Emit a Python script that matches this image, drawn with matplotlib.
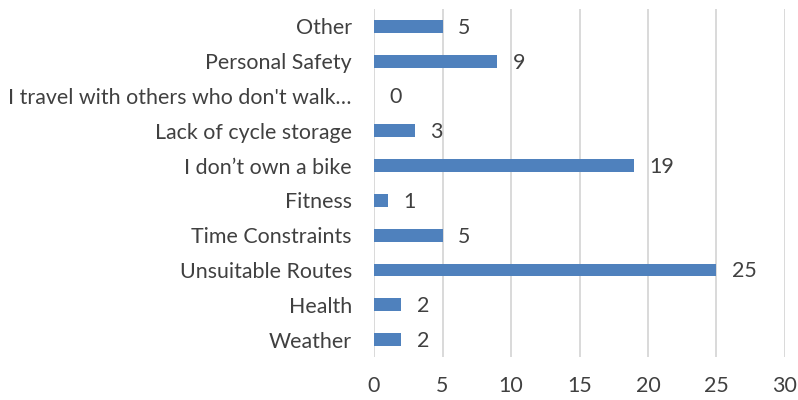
import matplotlib.pyplot as plt

# categories bottom -> top
categories = ["Weather", "Health", "Unsuitable Routes", "Time Constraints", "Fitness",
              "I don\u2019t own a bike", "Lack of cycle storage",
              "I travel with others who don't walk\u2026", "Personal Safety", "Other"]
counts = [2, 2, 25, 5, 1, 19, 3, 0, 9, 5]
x_ticks = [0, 5, 10, 15, 20, 25, 30]

plt.rcParams['font.family'] = ['Lato', 'DejaVu Sans']
text_col = '#404040'
fs = 15.4

fig = plt.figure(figsize=(7.98, 4.0), dpi=100)
ax = fig.add_axes([0.4687, 0.1075, 0.9837 - 0.4687, 0.9775 - 0.1075])

pos = range(len(categories))
ax.barh(pos, counts, height=0.37, color='#4F81BD', zorder=3)

for p, v in zip(pos, counts):
    ax.annotate(str(v), (v, p), xytext=(11, -1), textcoords='offset points',
                va='center', ha='left', fontsize=fs, color=text_col)

ax.set_xlim(0, 30)
ax.set_ylim(-0.5, len(categories) - 0.5)
ax.set_xticks(x_ticks)
ax.set_yticks(list(pos))
ax.set_yticklabels(categories)
ax.grid(axis='x', color='#D9D9D9', linewidth=1.4, zorder=0)
for s in ax.spines.values():
    s.set_visible(False)
ax.tick_params(axis='both', length=0, labelsize=fs, labelcolor=text_col)
ax.tick_params(axis='x', pad=14)
ax.tick_params(axis='y', pad=16)

fig.savefig("out.png", dpi=100)
